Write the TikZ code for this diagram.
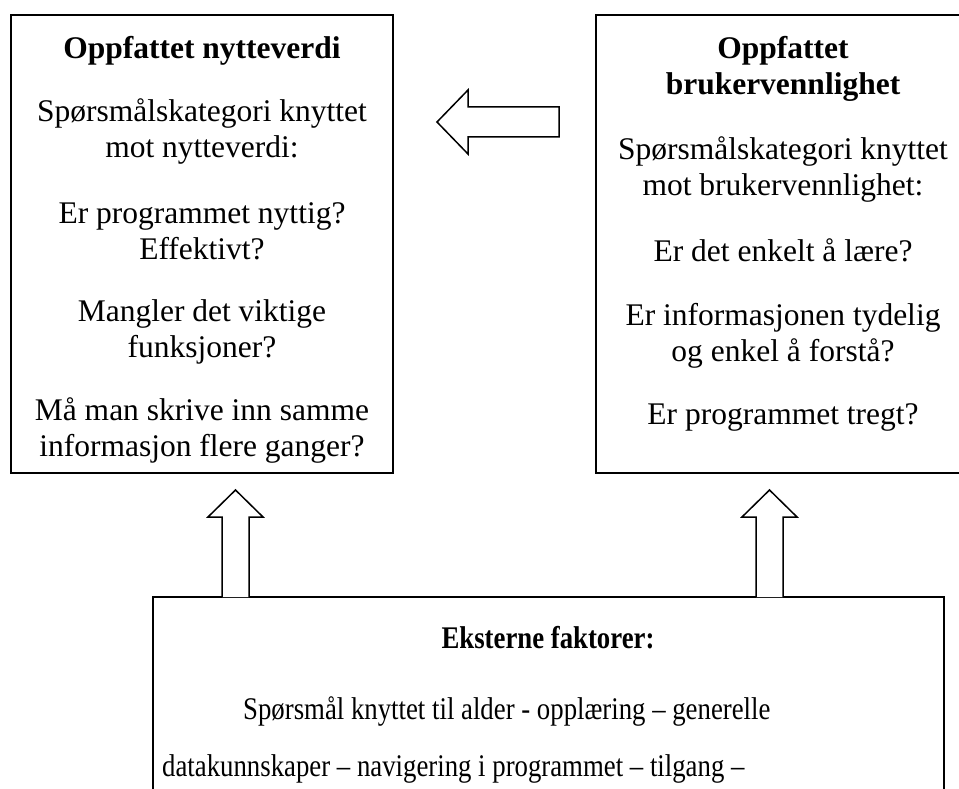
\documentclass[tikz,border=0pt]{standalone}
\usepackage{fontspec}
\setmainfont{Liberation Serif}
\begin{document}
\begin{tikzpicture}[x=1pt,y=-1pt,
  frame/.style={draw, line width=1.5pt, fill=white, inner sep=0pt, outer sep=0pt, anchor=north west},
  body/.style={align=center, inner sep=0pt, font=\fontsize{31.5}{36}\selectfont},
  squeezed/.style={inner sep=0pt, font=\fontsize{31.5}{36}\selectfont},
  hollow/.style={draw, line width=1.5pt, fill=white, line join=miter}]
\useasboundingbox (0,0) rectangle (959,789);
\clip (0,0) rectangle (959,789);

% three boxes
\node[frame, minimum width=382pt, minimum height=458pt] (lbox) at (11,15) {};
\node[frame, minimum width=374pt, minimum height=458pt] (rbox) at (596,15) {};
\node[frame, minimum width=791pt, minimum height=230pt] (bbox) at (153,597) {};

% left box text
\node[body, anchor=north] (ltext) at (202,36) {%
  \textbf{Oppfattet nytteverdi}\\[27pt]
  Spørsmålskategori knyttet\\ mot nytteverdi:\\[30pt]
  Er programmet nyttig?\\ Effektivt?\\[26pt]
  Mangler det viktige\\ funksjoner?\\[27pt]
  Må man skrive inn samme\\ informasjon flere ganger?};

% right box text
\node[body, anchor=north] (rtext) at (783,36) {%
  \textbf{Oppfattet}\\ \textbf{brukervennlighet}\\[29pt]
  Spørsmålskategori knyttet\\ mot brukervennlighet:\\[30pt]
  Er det enkelt å lære?\\[28pt]
  Er informasjonen tydelig\\ og enkel å forstå?\\[27pt]
  Er programmet tregt?};

% bottom box text, set slightly condensed
\node[squeezed, anchor=center] (btitle) at (548,638) {\scalebox{0.85}[1]{\textbf{Eksterne faktorer:}}};
\node[squeezed, anchor=base west] (bline1) at (243,719) {\scalebox{0.85}[1]{Spørsmål knyttet til alder - opplæring – generelle}};
\node[squeezed, anchor=base west] (bline2) at (162,776) {\scalebox{0.85}[1]{datakunnskaper – navigering i programmet – tilgang –}};

% block arrow from the right box towards the left box
\draw[hollow] (559,107) -- (468,107) -- (468,90) -- (437,122) -- (468,154) -- (468,137) -- (559,137) -- cycle;

% block arrows from the bottom box up to the two upper boxes
\draw[hollow] (222,597) -- (222,517) -- (208,517) -- (235.5,490) -- (263,517) -- (249,517) -- (249,597);
\draw[hollow] (756,597) -- (756,517) -- (742,517) -- (769.5,490) -- (797,517) -- (783,517) -- (783,597);
\end{tikzpicture}
\end{document}
